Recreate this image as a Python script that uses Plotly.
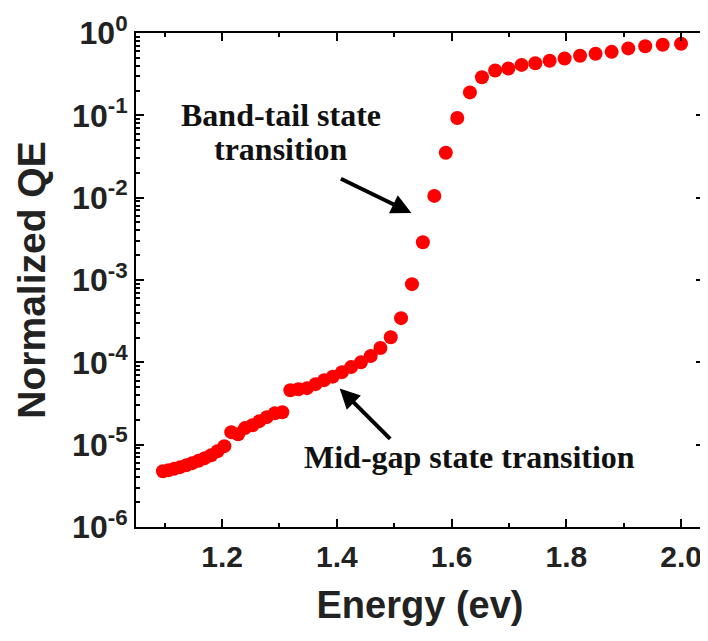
import plotly.graph_objects as go

# Photon energy (eV) and normalized quantum efficiency
energy = [1.097, 1.107, 1.117, 1.127, 1.138, 1.148, 1.159, 1.170, 1.181, 1.192,
          1.204, 1.216, 1.228, 1.240, 1.253, 1.265, 1.278, 1.292, 1.305, 1.319,
          1.333, 1.348, 1.363, 1.378, 1.393, 1.409, 1.425, 1.442, 1.459, 1.476,
          1.494, 1.512, 1.531, 1.550, 1.570, 1.590, 1.610, 1.632, 1.653, 1.676,
          1.699, 1.722, 1.746, 1.771, 1.797, 1.824, 1.851, 1.879, 1.908, 1.9375,
          1.968, 2.000]
qe = [4.76e-6, 4.90e-6, 5.11e-6, 5.33e-6, 5.64e-6, 5.96e-6, 6.39e-6, 6.86e-6, 7.45e-6, 8.33e-6,
      9.6e-6, 1.42e-5, 1.34e-5, 1.59e-5, 1.72e-5, 1.93e-5, 2.16e-5, 2.41e-5, 2.48e-5, 4.59e-5,
      4.72e-5, 4.86e-5, 5.43e-5, 6.08e-5, 6.70e-5, 7.60e-5, 8.75e-5, 1.00e-4, 1.19e-4, 1.49e-4,
      2.02e-4, 3.44e-4, 8.9e-4, 2.88e-3, 1.05e-2, 3.51e-2, 9.27e-2, 0.19, 0.29, 0.35,
      0.37, 0.41, 0.43, 0.46, 0.49, 0.53, 0.56, 0.59, 0.65, 0.69,
      0.72, 0.74]

x_ticks = [1.2, 1.4, 1.6, 1.8, 2.0]
x_tick_labels = ["1.2", "1.4", "1.6", "1.8", "2.0"]
y_exponents = [0, -1, -2, -3, -4, -5, -6]
y_tick_labels = ["10<sup>%d</sup>" % e for e in y_exponents]

fig = go.Figure()
fig.add_trace(go.Scatter(
    x=energy, y=qe, mode="markers",
    marker=dict(color="#ff0000", size=14, line=dict(width=0)),
    showlegend=False,
))

sans = "Liberation Sans, Arial, sans-serif"
serif = "Liberation Serif, Times New Roman, serif"

y_minor = [k * 10 ** e for e in range(-6, 0) for k in range(2, 10)]

fig.update_xaxes(
    range=[1.05, 2.04], automargin=False,
    tickvals=x_ticks, ticktext=x_tick_labels,
    ticks="inside", ticklen=8, tickwidth=2, tickcolor="black",
    minor=dict(ticks="inside", ticklen=4, tickwidth=2, tickcolor="black", dtick=0.1, tick0=1.1),
    showline=True, linecolor="black", linewidth=2, mirror="allticks",
    showgrid=False, zeroline=False, ticklabelstandoff=2,
    tickfont=dict(family=sans, size=30, color="#222", weight="bold"),
    title=dict(text="<b>Energy (ev)</b>", font=dict(family=sans, size=38, color="#222"), standoff=19),
)
fig.update_yaxes(
    type="log", range=[-6, 0], automargin=False,
    tickvals=[10 ** e for e in y_exponents], ticktext=y_tick_labels,
    ticks="inside", ticklen=8, tickwidth=2, tickcolor="black",
    minor=dict(ticks="inside", ticklen=4, tickwidth=1.5, tickcolor="black", tickvals=y_minor),
    showline=True, linecolor="black", linewidth=2, mirror="allticks",
    showgrid=False, zeroline=False,
    tickfont=dict(family=sans, size=32, color="#222", weight="bold"),
    title=dict(text="<b>Normalized QE</b>", font=dict(family=sans, size=39, color="#222"), standoff=14),
)

# arrows
fig.add_annotation(x=1.530, y=-2.187, xref="x", yref="y", text="", showarrow=True,
                   ax=-72, ay=-35, arrowhead=2, arrowsize=1, arrowwidth=4, arrowcolor="black")
fig.add_annotation(x=1.405, y=-4.317, xref="x", yref="y", text="", showarrow=True,
                   ax=52, ay=52, arrowhead=2, arrowsize=1, arrowwidth=4, arrowcolor="black")

# text labels
fig.add_annotation(x=1.303, y=-1.0, xref="x", yref="y", text="<b>Band-tail state</b>",
                   showarrow=False, font=dict(family=serif, size=32, color="#111"))
fig.add_annotation(x=1.302, y=-1.41, xref="x", yref="y", text="<b>transition</b>",
                   showarrow=False, font=dict(family=serif, size=32, color="#111"))
fig.add_annotation(x=1.632, y=-5.15, xref="x", yref="y", text="<b>Mid-gap state transition</b>",
                   showarrow=False, font=dict(family=serif, size=32, color="#111"))

# the page body adds an 8 px offset, so the figure is sized to fit the 708x641 window
fig.update_layout(
    width=700, height=633,
    margin=dict(l=128, r=4, t=25, b=114),
    paper_bgcolor="white", plot_bgcolor="white",
    font=dict(family=sans, color="#222"),
)

fig.write_html("out.html")
